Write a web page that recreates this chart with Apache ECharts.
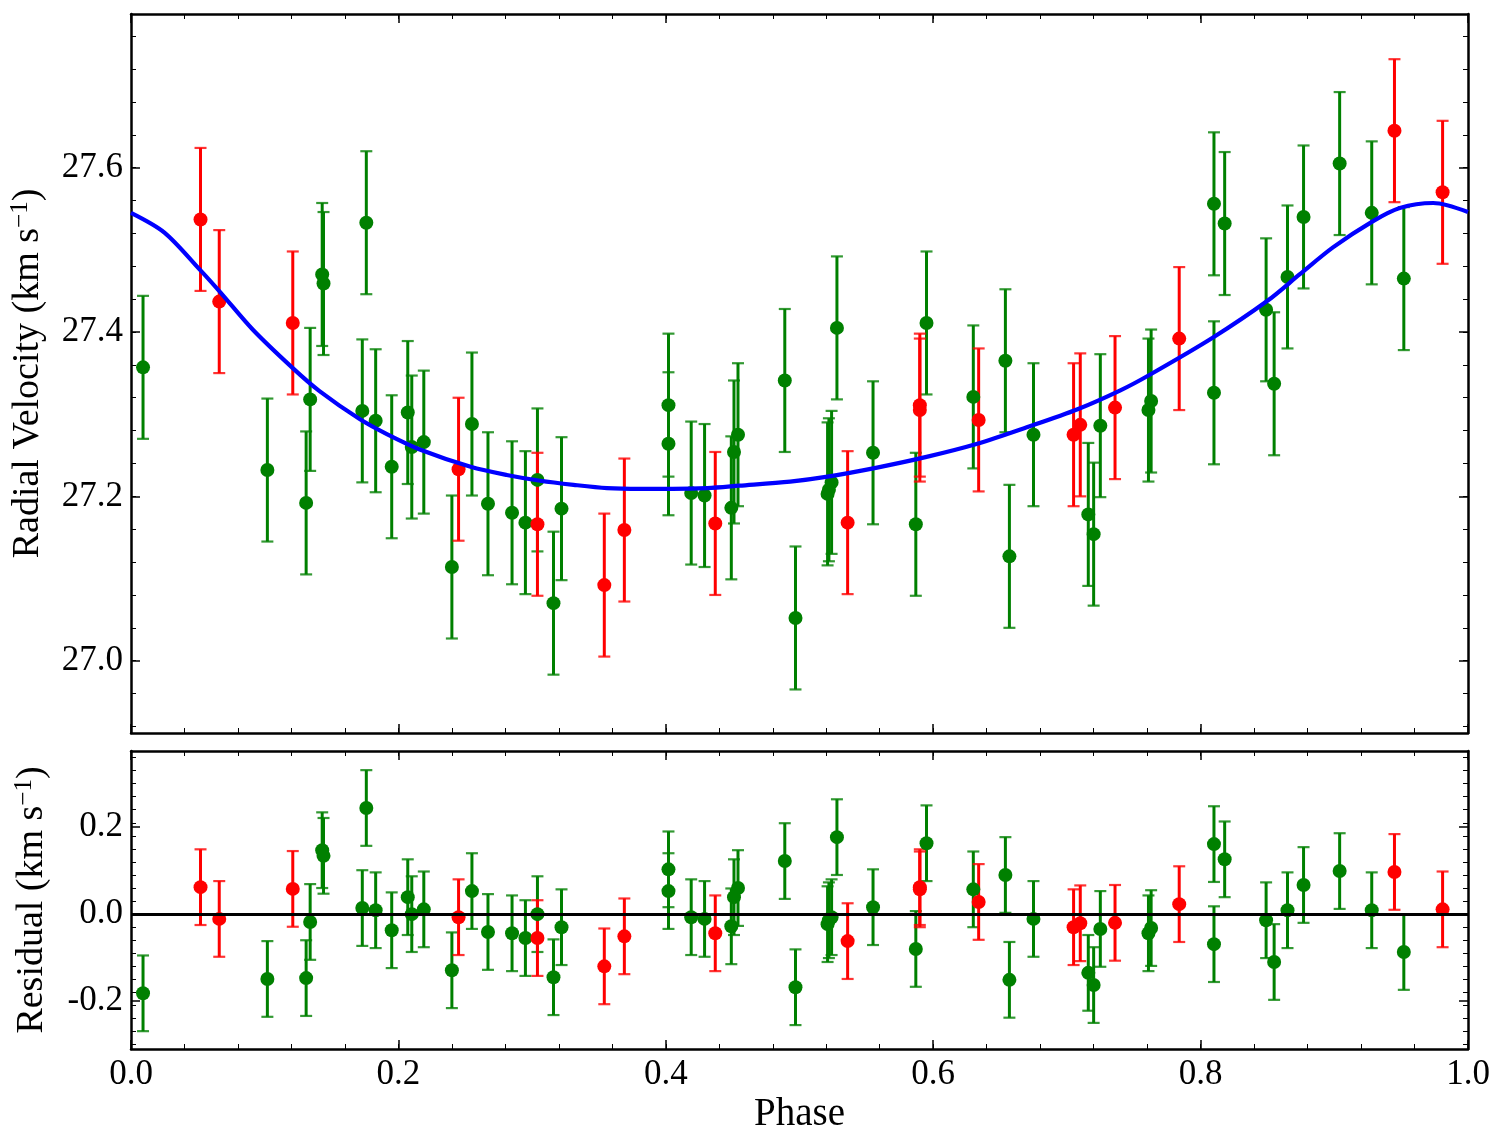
<!DOCTYPE html>
<html>
<head>
<meta charset="utf-8">
<script src="https://cdn.jsdelivr.net/npm/echarts@6/dist/echarts.min.js"></script>
<style>
  html, body { margin: 0; padding: 0; background: #fff; }
  #chart { width: 1505px; height: 1146px; }
</style>
</head>
<body>
<div id="chart"></div>
<script>
// green measurements: phase, radial velocity, residual
const greenPhase = [0.009, 0.102, 0.131, 0.134, 0.143, 0.144, 0.173, 0.176, 0.183, 0.195,
  0.207, 0.210, 0.219, 0.240, 0.255, 0.267, 0.285, 0.295, 0.304, 0.316,
  0.322, 0.402, 0.402, 0.419, 0.429, 0.449, 0.451, 0.454, 0.489, 0.497,
  0.521, 0.522, 0.524, 0.528, 0.555, 0.587, 0.595, 0.630, 0.654, 0.657,
  0.675, 0.716, 0.720, 0.725, 0.761, 0.763, 0.810, 0.810, 0.818, 0.849,
  0.855, 0.865, 0.877, 0.904, 0.928, 0.952];
const greenRv = [27.357, 27.232, 27.192, 27.318, 27.470, 27.459, 27.304, 27.533, 27.292, 27.236,
  27.302, 27.260, 27.266, 27.114, 27.288, 27.191, 27.180, 27.168, 27.220, 27.070,
  27.185, 27.311, 27.264, 27.204, 27.201, 27.186, 27.254, 27.275, 27.341, 27.052,
  27.203, 27.208, 27.217, 27.405, 27.253, 27.166, 27.411, 27.321, 27.365, 27.127,
  27.275, 27.178, 27.154, 27.286, 27.305, 27.316, 27.556, 27.326, 27.532, 27.427,
  27.337, 27.467, 27.540, 27.605, 27.545, 27.465];
const greenRes = [-0.182, -0.149, -0.147, -0.018, 0.147, 0.134, 0.014, 0.244, 0.009, -0.037,
  0.039, 0.000, 0.011, -0.129, 0.053, -0.041, -0.044, -0.055, 0.000, -0.145,
  -0.030, 0.103, 0.053, -0.007, -0.011, -0.028, 0.039, 0.060, 0.122, -0.168,
  -0.023, -0.014, -0.007, 0.177, 0.016, -0.080, 0.163, 0.057, 0.090, -0.151,
  -0.011, -0.135, -0.163, -0.034, -0.044, -0.032, 0.161, -0.069, 0.126, -0.014,
  -0.110, 0.009, 0.067, 0.099, 0.009, -0.087];

// red measurements
const redPhase = [0.052, 0.066, 0.121, 0.245, 0.304, 0.354, 0.369, 0.437, 0.536,
  0.590, 0.590, 0.634, 0.705, 0.710, 0.736, 0.784, 0.945, 0.981];
const redRv = [27.537, 27.437, 27.411, 27.233, 27.166, 27.092, 27.159, 27.167, 27.168,
  27.311, 27.305, 27.293, 27.275, 27.287, 27.308, 27.392, 27.645, 27.570];
const redRes = [0.062, -0.011, 0.058, -0.007, -0.055, -0.120, -0.051, -0.044, -0.062,
  0.062, 0.057, 0.028, -0.030, -0.021, -0.020, 0.023, 0.097, 0.011];

// error bar half-length, same for every point (km/s)
const rvErr = 0.087;

// fitted orbit curve
const modelPhase = [0.0, 0.025, 0.052, 0.067, 0.091, 0.121, 0.141, 0.171, 0.191, 0.216,
  0.254, 0.281, 0.306, 0.331, 0.356, 0.381, 0.405, 0.431, 0.455, 0.493,
  0.521, 0.558, 0.595, 0.633, 0.670, 0.708, 0.740, 0.762, 0.809, 0.850,
  0.874, 0.899, 0.929, 0.949, 0.974, 1.0];
const modelRv = [27.545, 27.521, 27.475, 27.448, 27.403, 27.356, 27.328, 27.294, 27.276, 27.257,
  27.236, 27.226, 27.219, 27.214, 27.210, 27.209, 27.209, 27.210, 27.213, 27.218,
  27.224, 27.235, 27.248, 27.264, 27.284, 27.306, 27.329, 27.348, 27.393, 27.438,
  27.470, 27.503, 27.535, 27.551, 27.557, 27.546];

// ticks
const phaseTicks = [0.0, 0.2, 0.4, 0.6, 0.8, 1.0];
const rvTicks = [27.0, 27.2, 27.4, 27.6];
const resTicks = [-0.2, 0.0, 0.2];

const rvMin = 26.912, rvMax = 27.787;
const resMin = -0.310, resMax = 0.375;

const FONT = '"Liberation Serif", "DejaVu Serif", serif';
const GREEN = '#008000', RED = '#ff0000', BLUE = '#0000ff';

function steps(start, stop, step) {
  const out = [];
  const n = Math.round((stop - start) / step);
  for (let i = 0; i <= n; i++) out.push(+(start + i * step).toFixed(4));
  return out;
}

const phaseMinor = steps(0, 1, 0.04);
const rvMinor = steps(26.92, 27.76, 0.04);
const resMinor = steps(-0.30, 0.36, 0.03);

// one frame side = main axis (line, major ticks, maybe labels) + overlay for minor ticks
function side(gridIndex, position, min, max, majors, minors, labels, extra) {
  const main = Object.assign({
    type: 'value', gridIndex, position, min, max,
    axisLine: { show: true, onZero: false, lineStyle: { color: '#000', width: 2.5 } },
    axisTick: { show: true, inside: true, length: 9, customValues: majors, lineStyle: { color: '#000', width: 1.5 } },
    axisLabel: {
      show: labels, customValues: majors, margin: 8,
      formatter: (v) => v.toFixed(1),
      color: '#000', fontFamily: FONT, fontSize: 35
    },
    splitLine: { show: false }
  }, extra || {});
  const minor = {
    type: 'value', gridIndex, position, min, max,
    axisLine: { show: false, onZero: false },
    axisTick: { show: true, inside: true, length: 5, customValues: minors, lineStyle: { color: '#000', width: 1 } },
    axisLabel: { show: false },
    splitLine: { show: false }
  };
  return [main, minor];
}

const nameStyle = {
  color: '#000', fontFamily: FONT, fontSize: 38,
  rich: {
    sup: { fontFamily: FONT, fontSize: 25, verticalAlign: 'top', padding: [0, 0, 15, 0] }
  }
};

const xAxis = [
  ...side(0, 'bottom', 0, 1, phaseTicks, phaseMinor, false),
  ...side(0, 'top', 0, 1, phaseTicks, phaseMinor, false),
  ...side(1, 'bottom', 0, 1, phaseTicks, phaseMinor, true, {
    name: 'Phase', nameLocation: 'middle', nameGap: 46,
    nameTextStyle: { color: '#000', fontFamily: FONT, fontSize: 39 }
  }),
  ...side(1, 'top', 0, 1, phaseTicks, phaseMinor, false)
];

const yAxis = [
  ...side(0, 'left', rvMin, rvMax, rvTicks, rvMinor, true, {
    name: 'Radial Velocity (km s{sup|−1})', nameLocation: 'middle', nameGap: 83,
    nameRotate: 90, nameTextStyle: nameStyle
  }),
  ...side(0, 'right', rvMin, rvMax, rvTicks, rvMinor, false),
  ...side(1, 'left', resMin, resMax, resTicks, resMinor, true, {
    name: 'Residual (km s{sup|−1})', nameLocation: 'middle', nameGap: 79,
    nameRotate: 90, nameTextStyle: nameStyle
  }),
  ...side(1, 'right', resMin, resMax, resTicks, resMinor, false)
];

function errorData(phase, val) {
  return phase.map((p, i) => [p, val[i], rvErr]);
}
function pointData(phase, val) {
  return phase.map((p, i) => [p, val[i]]);
}

function errorBars(color, xi, yi, data) {
  return {
    type: 'custom', xAxisIndex: xi, yAxisIndex: yi, z: 3, silent: true,
    data,
    renderItem: function (params, api) {
      const x = api.value(0), y = api.value(1), e = api.value(2);
      const top = api.coord([x, y + e]);
      const bot = api.coord([x, y - e]);
      const hw = 6;
      const style = { stroke: color, lineWidth: 3 };
      const capStyle = { stroke: color, lineWidth: 2.2, opacity: 0.8 };
      return {
        type: 'group',
        children: [
          { type: 'line', shape: { x1: top[0], y1: top[1], x2: bot[0], y2: bot[1] }, style },
          { type: 'line', shape: { x1: top[0] - hw, y1: top[1], x2: top[0] + hw, y2: top[1] }, style: capStyle },
          { type: 'line', shape: { x1: bot[0] - hw, y1: bot[1], x2: bot[0] + hw, y2: bot[1] }, style: capStyle }
        ]
      };
    }
  };
}

function points(color, xi, yi, data) {
  return {
    type: 'scatter', xAxisIndex: xi, yAxisIndex: yi, z: 4, silent: true,
    symbol: 'circle', symbolSize: 14,
    itemStyle: { color, opacity: 1 },
    data
  };
}

const chart = echarts.init(document.getElementById('chart'), null, { renderer: 'canvas' });

chart.setOption({
  animation: false,
  backgroundColor: '#fff',
  grid: [
    { left: 131, top: 14, width: 1337, height: 719, containLabel: false, outerBoundsMode: 'none' },
    { left: 131, top: 751, width: 1337, height: 298, containLabel: false, outerBoundsMode: 'none' }
  ],
  xAxis,
  yAxis,
  series: [
    // top panel
    errorBars(GREEN, 0, 0, errorData(greenPhase, greenRv)),
    points(GREEN, 0, 0, pointData(greenPhase, greenRv)),
    errorBars(RED, 0, 0, errorData(redPhase, redRv)),
    points(RED, 0, 0, pointData(redPhase, redRv)),
    {
      type: 'line', xAxisIndex: 0, yAxisIndex: 0, z: 6, silent: true,
      data: pointData(modelPhase, modelRv),
      showSymbol: false, smooth: 0.3,
      lineStyle: { color: BLUE, width: 4.2 }
    },
    // bottom panel: zero line under the points
    {
      type: 'scatter', xAxisIndex: 4, yAxisIndex: 4, z: 1, silent: true, data: [],
      markLine: {
        silent: true, symbol: 'none', animation: false,
        label: { show: false },
        lineStyle: { color: '#000', width: 3, type: 'solid' },
        data: [{ yAxis: 0 }]
      }
    },
    errorBars(GREEN, 4, 4, errorData(greenPhase, greenRes)),
    points(GREEN, 4, 4, pointData(greenPhase, greenRes)),
    errorBars(RED, 4, 4, errorData(redPhase, redRes)),
    points(RED, 4, 4, pointData(redPhase, redRes))
  ]
});
</script>
</body>
</html>
